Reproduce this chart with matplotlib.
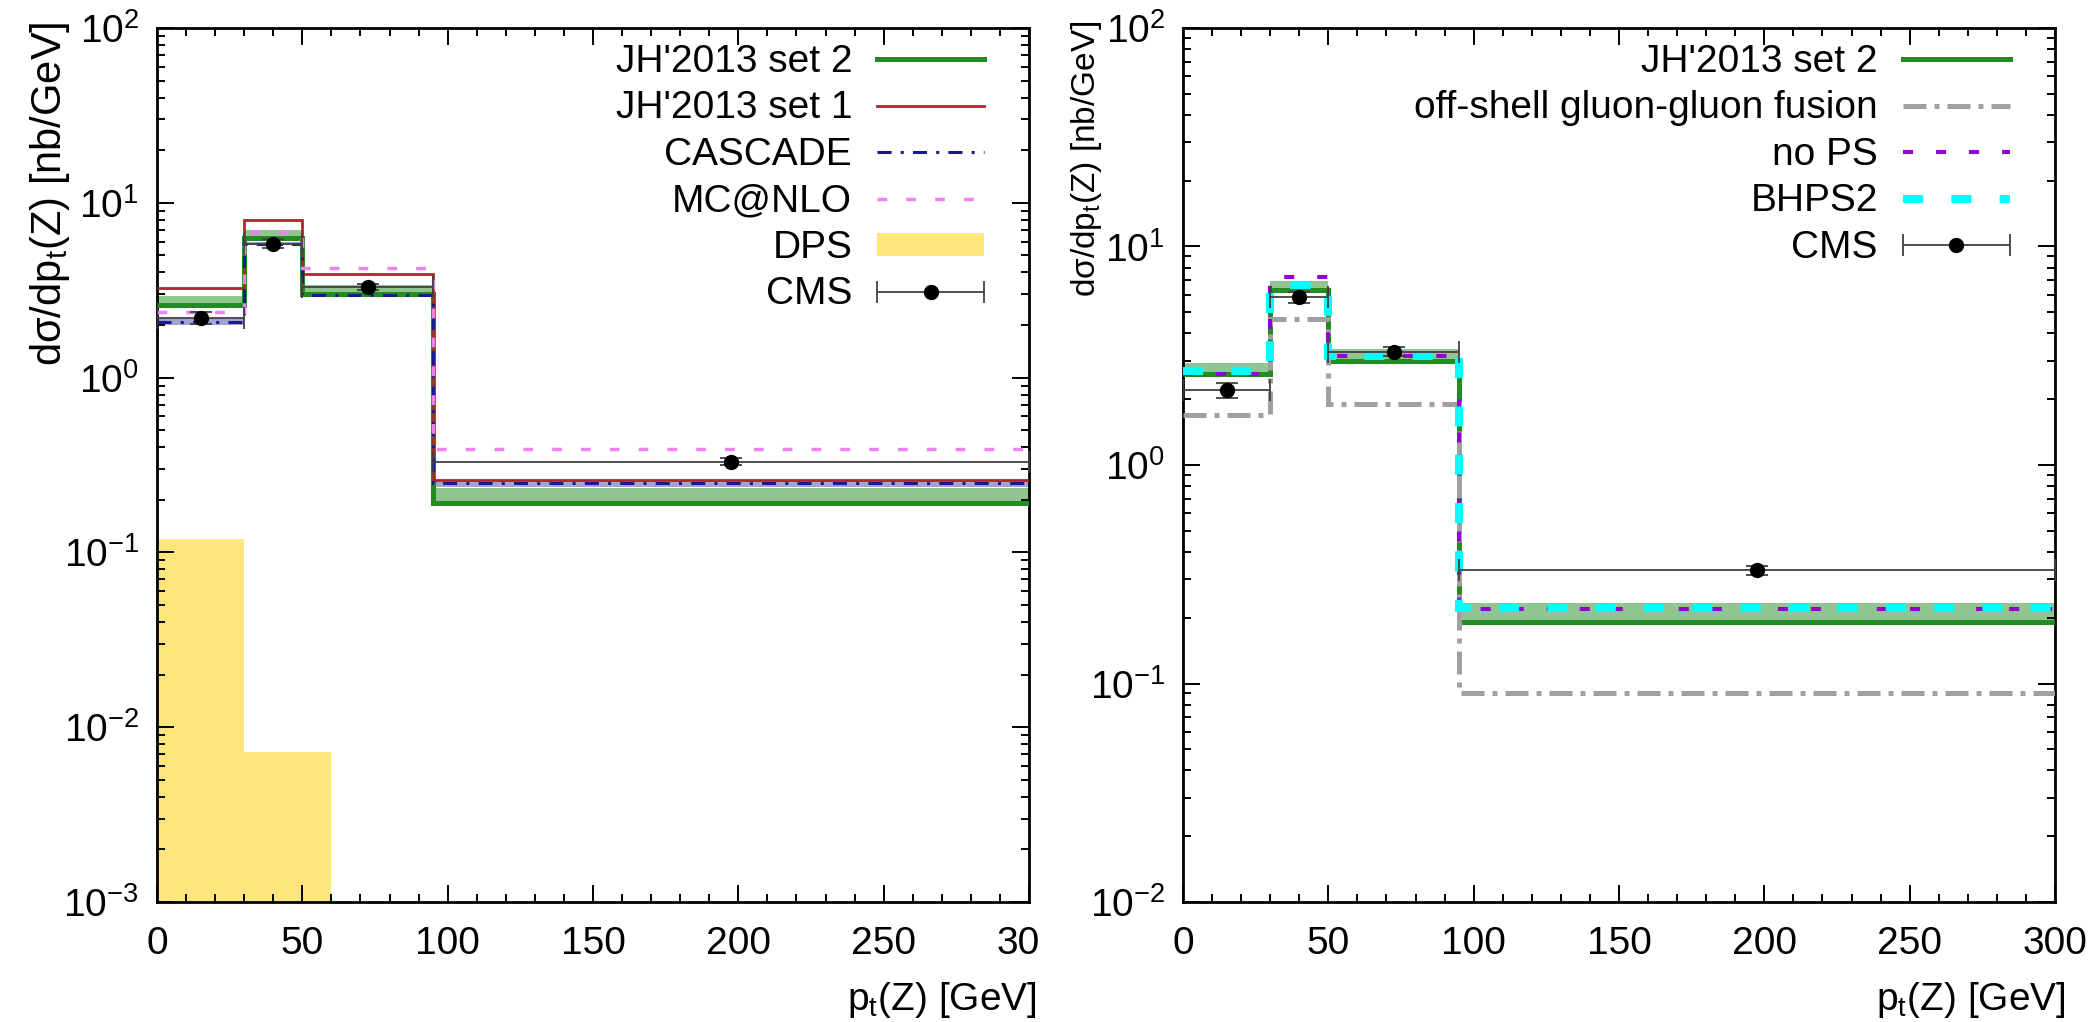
import numpy as np
import matplotlib
matplotlib.use('Agg')
import matplotlib.pyplot as plt
from matplotlib.transforms import ScaledTranslation
from matplotlib.legend_handler import HandlerErrorbar
from matplotlib.patches import Patch
from matplotlib.lines import Line2D
from matplotlib.ticker import MultipleLocator, LogLocator, NullFormatter

plt.rcParams['font.family'] = ['Liberation Sans', 'DejaVu Sans']
plt.rcParams['mathtext.default'] = 'regular'

# ---------------- data ----------------
edges = [0, 30, 50, 95, 300]
dps_edges = [0, 30, 60]

jh2 = [2.6, 6.3, 3.0, 0.192]
jh2_up = [2.92, 6.95, 3.38, 0.233]
jh1 = [3.27, 8.0, 3.91, 0.258]
cascade = [2.08, 5.85, 2.95, 0.248]
cascade_lo = [1.99, 5.72, 2.9, 0.236]
cascade_hi = [2.17, 5.95, 3.0, 0.258]
mcatnlo = [2.36, 6.85, 4.24, 0.388]
dps = [0.12, 0.0072]
offshell = [1.69, 4.66, 1.90, 0.0906]
nops = [2.62, 7.27, 3.15, 0.22]
bhps2 = [2.69, 6.67, 3.15, 0.221]

cms_x = [15, 40, 72.5, 197.5]
cms_xerr = [15, 10, 22.5, 102.5]
cms_y = [2.2, 5.85, 3.3, 0.33]
cms_yerr = [0.18, 0.32, 0.15, 0.015]

xticks = [0, 50, 100, 150, 200, 250, 300]
xlabels_left = ['0', '50', '100', '150', '200', '250', '30']
xlabels_right = ['0', '50', '100', '150', '200', '250', '300']
yticks_left = [1e-3, 1e-2, 1e-1, 1e0, 1e1, 1e2]
ylabels_left = ['$10^{-3}$', '$10^{-2}$', '$10^{-1}$', '$10^{0}$', '$10^{1}$', '$10^{2}$']
yticks_right = [1e-2, 1e-1, 1e0, 1e1, 1e2]
ylabels_right = ['$10^{-2}$', '$10^{-1}$', '$10^{0}$', '$10^{1}$', '$10^{2}$']

labels_left = ["JH'2013 set 2", "JH'2013 set 1", "CASCADE", "MC@NLO", "DPS", "CMS"]
labels_right = ["JH'2013 set 2", "off-shell gluon-gluon fusion", "no PS", "BHPS2", "CMS"]

xlabel = 'p$_t$(Z) [GeV]'
ylabel = 'd\u03c3/dp$_t$(Z) [nb/GeV]'

# ---------------- style ----------------
GREEN = '#228b22'
BAND = '#228b22'
RED = '#a52a2a'
NAVY = '#1a1a8c'
VIOLET = '#ee82ee'
YELLOW = '#fee67c'
GRAY = '#a0a0a0'
PURPLE = '#9400d3'
CYAN = '#00ffff'
ECOL = '#404040'
FS = 28

W, H = 2100, 1022
fig = plt.figure(figsize=(W / 100, H / 100), dpi=100)


def rect(x0, x1, y0, y1):
    return [x0 / W, 1 - y1 / H, (x1 - x0) / W, (y1 - y0) / H]


axL = fig.add_axes(rect(157, 1029, 28, 902))
axR = fig.add_axes(rect(1183, 2055, 28, 902))


def style(ax, yt, yl, xl):
    ax.set_yscale('log')
    ax.set_xlim(0, 300)
    ax.set_ylim(yt[0], yt[-1])
    ax.set_xticks(xticks, xl)
    ax.set_yticks(yt, yl)
    ax.xaxis.set_minor_locator(MultipleLocator(10))
    ax.yaxis.set_minor_locator(LogLocator(base=10, subs=np.arange(2, 10)))
    ax.yaxis.set_minor_formatter(NullFormatter())
    ax.tick_params(which='both', direction='in', top=True, right=True, width=1.4, labelsize=FS)
    ax.tick_params(which='major', length=12)
    ax.tick_params(which='minor', length=6)
    ax.tick_params(axis='x', which='major', pad=17)
    ax.tick_params(axis='y', which='major', pad=13)
    for sp in ax.spines.values():
        sp.set_linewidth(2.0)


def cms(ax):
    ax.errorbar(cms_x, cms_y, xerr=cms_xerr, yerr=cms_yerr, fmt='o', color='black', ms=10,
                ecolor=ECOL, elinewidth=1.3, capsize=8, capthick=1.3, zorder=10)
    proxy = ax.errorbar([np.nan], [np.nan], xerr=[[1], [1]], fmt='o', color='black', ms=10,
                        ecolor=ECOL, elinewidth=1.3, capsize=8, capthick=1.3)
    return proxy


# ---------------- left panel ----------------
style(axL, yticks_left, ylabels_left, xlabels_left)
axL.stairs(jh2_up, edges, baseline=jh2, fill=True, color=BAND, alpha=0.5, lw=0, zorder=1)
axL.stairs(cascade_hi, edges, baseline=cascade_lo, fill=True, color=NAVY, alpha=0.4, lw=0, zorder=1)
axL.stairs(dps, dps_edges, baseline=1e-6, fill=True, color=YELLOW, lw=0, zorder=1)
axL.stairs(jh2, edges, baseline=None, color=GREEN, lw=3.6, zorder=3)
axL.stairs(jh1, edges, baseline=None, color=RED, lw=2.0, zorder=3)
axL.stairs(cascade, edges, baseline=None, color=NAVY, lw=2.2, linestyle=(0, (4.6, 3, 1, 3)), zorder=3)
axL.stairs(mcatnlo, edges, baseline=None, color=VIOLET, lw=2.5, linestyle=(0, (2.8, 5.5)), zorder=3)
proxyL = cms(axL)

hL = [Line2D([], [], color=GREEN, lw=3.6),
      Line2D([], [], color=RED, lw=2.0),
      Line2D([], [], color=NAVY, lw=2.2, linestyle=(0, (4.6, 3, 1, 3))),
      Line2D([], [], color=VIOLET, lw=2.5, linestyle=(0, (2.8, 5.5))),
      Patch(facecolor=YELLOW, edgecolor='none'),
      proxyL]
axL.legend(hL, labels_left, loc='upper right', bbox_to_anchor=(0.9484, 0.9817),
           borderaxespad=0, borderpad=0, frameon=False, markerfirst=False, fontsize=FS,
           handlelength=2.75, handletextpad=0.64, labelspacing=0.27, handleheight=0.55,
           handler_map={proxyL: HandlerErrorbar(xerr_size=1.375)})

# truncated last tick label ("300" cut to "30")
lab = axL.get_xticklabels()[-1]
lab.set_ha('left')
lab.set_transform(lab.get_transform() + ScaledTranslation(-0.325, 0, fig.dpi_scale_trans))

# ---------------- right panel ----------------
style(axR, yticks_right, ylabels_right, xlabels_right)
axR.stairs(jh2_up, edges, baseline=jh2, fill=True, color=BAND, alpha=0.5, lw=0, zorder=1)
axR.stairs(jh2, edges, baseline=None, color=GREEN, lw=3.6, zorder=3)
axR.stairs(offshell, edges, baseline=None, color=GRAY, lw=3.6, linestyle=(0, (4.6, 1.6, 1, 1.6)), zorder=3)
axR.stairs(nops, edges, baseline=None, color=PURPLE, lw=2.9, linestyle=(0, (2.5, 5.7)), zorder=3)
axR.stairs(bhps2, edges, baseline=None, color=CYAN, lw=5.8, linestyle=(0, (2.5, 3.5)), zorder=3)
proxyR = cms(axR)

hR = [Line2D([], [], color=GREEN, lw=3.6),
      Line2D([], [], color=GRAY, lw=3.6, linestyle=(0, (4.6, 1.6, 1, 1.6))),
      Line2D([], [], color=PURPLE, lw=2.9, linestyle=(0, (2.5, 5.7))),
      Line2D([], [], color=CYAN, lw=5.8, linestyle=(0, (2.5, 3.5))),
      proxyR]
axR.legend(hR, labels_right, loc='upper right', bbox_to_anchor=(0.948, 0.9817),
           borderaxespad=0, borderpad=0, frameon=False, markerfirst=False, fontsize=FS,
           handlelength=2.75, handletextpad=0.64, labelspacing=0.27, handleheight=0.55,
           handler_map={proxyR: HandlerErrorbar(xerr_size=1.375)})

# ---------------- axis titles ----------------
fig.text(1037 / W, 1 - 1000 / H, xlabel, ha='right', va='center', fontsize=FS)
fig.text(2066 / W, 1 - 1000 / H, xlabel, ha='right', va='center', fontsize=FS)
fig.text(50 / W, 1 - 22 / H, ylabel, rotation=90, ha='center', va='top', fontsize=30)
fig.text(1087 / W, 1 - 20 / H, ylabel, rotation=90, ha='center', va='top', fontsize=24)

fig.savefig('out.png', dpi=100)
